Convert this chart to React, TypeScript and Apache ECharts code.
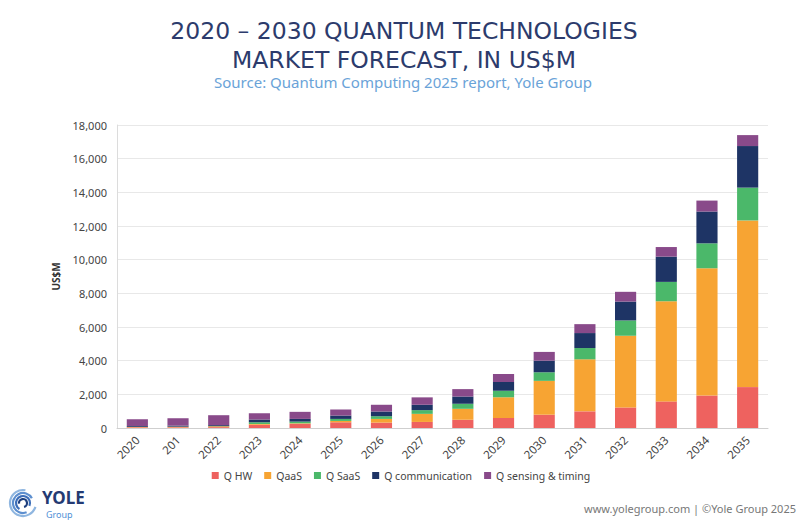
import React, { useEffect, useRef } from 'react'
import * as echarts from 'echarts'

const years = ['2020', '201', '2022', '2023', '2024', '2025', '2026', '2027', '2028', '2029', '2030', '2031', '2032', '2033', '2034', '2035']
const qHw = [40, 40, 50, 200, 250, 340, 320, 360, 490, 590, 790, 990, 1220, 1580, 1930, 2430]
const qaas = [20, 30, 50, 40, 30, 80, 220, 480, 650, 1240, 2010, 3090, 4260, 5950, 7560, 9900]
const qSaas = [10, 10, 10, 100, 100, 120, 160, 220, 300, 380, 510, 670, 910, 1150, 1480, 1950]
const qComm = [50, 60, 60, 160, 160, 200, 280, 320, 430, 530, 690, 890, 1120, 1500, 1890, 2470]
const qSensing = [400, 440, 590, 380, 420, 360, 400, 440, 440, 470, 520, 530, 580, 570, 650, 650]

const seriesNames = ['Q HW', 'QaaS', 'Q SaaS', 'Q communication', 'Q sensing & timing']
const seriesColors = ['#ee625f', '#f7a433', '#4bb86a', '#1e3465', '#894a8a']
const seriesData = [qHw, qaas, qSaas, qComm, qSensing]

const font = "'Noto Sans', sans-serif"
const titleFont = "'DejaVu Sans', sans-serif"

export default function App() {
  const chartRef: any = useRef()

  useEffect(() => {
    document.body.style.margin = '0'
    const myChart = echarts.init(chartRef.current, null, { renderer: 'svg' })
    const option = {
      animation: false,
      backgroundColor: '#ffffff',
      legend: {
        data: seriesNames,
        top: 465,
        left: 'center',
        icon: 'rect',
        itemWidth: 7,
        itemHeight: 7,
        itemGap: 12,
        textStyle: { color: '#444', fontFamily: font, fontSize: 10.5 }
      },
      grid: { left: 117, right: 34, top: 125, bottom: 103 },
      xAxis: {
        type: 'category',
        data: years,
        axisLine: { lineStyle: { color: '#cfcfcf' } },
        axisTick: { show: false },
        axisLabel: { rotate: 45, color: '#444', fontFamily: font, fontSize: 11.5, margin: 10 }
      },
      yAxis: {
        type: 'value',
        min: 0,
        max: 18000,
        interval: 2000,
        name: 'US$M',
        nameLocation: 'middle',
        nameGap: 56,
        nameTextStyle: { color: '#333', fontFamily: font, fontSize: 10, fontWeight: 'bold' },
        axisLine: { show: true, lineStyle: { color: '#dcdcdc' } },
        splitLine: { lineStyle: { color: '#e8e8e8' } },
        axisLabel: {
          color: '#444',
          fontFamily: font,
          fontSize: 11,
          margin: 10,
          formatter: (v: number) => v.toLocaleString('en-US')
        }
      },
      series: seriesNames.map((name, i) => ({
        name,
        type: 'bar',
        stack: 'total',
        barWidth: '52%',
        data: seriesData[i],
        itemStyle: { color: seriesColors[i] }
      })),
      graphic: [
        {
          type: 'text',
          x: 404,
          y: 31,
          style: {
            text: '2020 – 2030 QUANTUM TECHNOLOGIES',
            fill: '#2c3b6c',
            font: `23.5px ${titleFont}`,
            textAlign: 'center',
            textVerticalAlign: 'middle'
          }
        },
        {
          type: 'text',
          x: 404,
          y: 60,
          style: {
            text: 'MARKET FORECAST, IN US$M',
            fill: '#2c3b6c',
            font: `23.5px ${titleFont}`,
            textAlign: 'center',
            textVerticalAlign: 'middle'
          }
        },
        {
          type: 'text',
          x: 403,
          y: 82,
          style: {
            text: 'Source: Quantum Computing 2025 report, Yole Group',
            fill: '#6aa3d8',
            font: `15px ${font}`,
            textAlign: 'center',
            textVerticalAlign: 'middle'
          }
        },
        ...[13, 10, 7, 4].map((r, i) => ({
          type: 'arc',
          shape: { cx: 23, cy: 503, r, startAngle: 0.3 + i * 0.9, endAngle: 0.3 + i * 0.9 + 4.6 },
          style: { stroke: ['#8fb6e0', '#5d8fcf', '#3b6db8', '#1e3f7e'][i], lineWidth: 2.2, fill: 'none' }
        })),
        {
          type: 'text',
          x: 42,
          y: 497,
          style: { text: 'YOLE', fill: '#243a73', font: `bold 17px ${font}`, textVerticalAlign: 'middle' }
        },
        {
          type: 'text',
          x: 46,
          y: 514,
          style: { text: 'Group', fill: '#4f8fd6', font: `9px ${font}`, textVerticalAlign: 'middle' }
        },
        {
          type: 'text',
          x: 796,
          y: 508,
          style: {
            text: 'www.yolegroup.com | ©Yole Group 2025',
            fill: '#777',
            font: `11px ${font}`,
            textAlign: 'right',
            textVerticalAlign: 'middle'
          }
        }
      ]
    }
    myChart.setOption(option)
    return () => {
      myChart.dispose()
    }
  }, [])

  return <div style={{ width: '802px', height: '531px' }} ref={chartRef} />
}
